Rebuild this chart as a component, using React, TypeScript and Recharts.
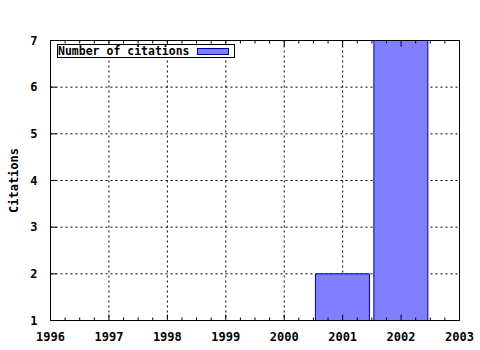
import React from 'react';
import { BarChart, Bar, XAxis, YAxis, CartesianGrid, Legend, Label } from 'recharts';

// citation counts per year
const years = [2001, 2002];
const citations = [2, 7];
const yearTicks = [1996, 1997, 1998, 1999, 2000, 2001, 2002, 2003];
const citationTicks = [1, 2, 3, 4, 5, 6, 7];
const seriesName = 'Number of citations';

const chartData = years.map((year, i) => ({ year, citations: citations[i] }));
// year tics plus quarter-year minor tics
const allXTicks = yearTicks.flatMap((y, i) =>
  i < yearTicks.length - 1 ? [y, y + 0.25, y + 0.5, y + 0.75] : [y]
);

const FONT = '"DejaVu Sans Mono", "Liberation Mono", monospace';
const BAR_FILL = '#8080ff';
const BAR_EDGE = '#0000a0';
const MAJOR = 6;
const MINOR = 3;

const tickText = {
  fontFamily: FONT,
  fontWeight: 'bold' as const,
  fontSize: 12,
  fill: '#000',
};

const isMajor = (v: number) => Number.isInteger(v);

const BottomTick = ({ x, y, payload }: any) => {
  const major = isMajor(payload.value);
  return (
    <g>
      <line x1={x} y1={y} x2={x} y2={y - (major ? MAJOR : MINOR)} stroke="#000" />
      {major && (
        <text x={x} y={y + 20} textAnchor="middle" {...tickText}>
          {payload.value}
        </text>
      )}
    </g>
  );
};

const TopTick = ({ x, y, payload }: any) => (
  <line x1={x} y1={y} x2={x} y2={y + (isMajor(payload.value) ? MAJOR : MINOR)} stroke="#000" />
);

const LeftTick = ({ x, y, payload }: any) => (
  <g>
    <line x1={x} y1={y} x2={x + MAJOR} y2={y} stroke="#000" />
    <text x={x - 13} y={y} textAnchor="end" dominantBaseline="central" {...tickText}>
      {payload.value}
    </text>
  </g>
);

const RightTick = ({ x, y }: any) => <line x1={x} y1={y} x2={x - MAJOR} y2={y} stroke="#000" />;

const YTitle = ({ viewBox }: any) => {
  const cx = viewBox.x + viewBox.width - 36.5;
  const cy = viewBox.y + viewBox.height / 2;
  return (
    <text
      x={cx}
      y={cy}
      transform={`rotate(-90 ${cx} ${cy})`}
      textAnchor="middle"
      dominantBaseline="central"
      {...tickText}
    >
      Citations
    </text>
  );
};

const LegendBox = ({ payload }: any) => (
  <div
    style={{
      boxSizing: 'border-box',
      width: 178,
      height: 14,
      border: '1px solid #000',
      background: '#fff',
      display: 'flex',
      alignItems: 'center',
      justifyContent: 'space-between',
      padding: '0 5px 0 0',
      fontFamily: FONT,
      fontWeight: 'bold',
      fontSize: 11.5,
      lineHeight: '12px',
      whiteSpace: 'nowrap',
      color: '#000',
    }}
  >
    <span>{payload && payload[0] ? payload[0].value : seriesName}</span>
    <span
      style={{
        display: 'inline-block',
        boxSizing: 'border-box',
        width: 32,
        height: 7,
        background: BAR_FILL,
        border: `1px solid ${BAR_EDGE}`,
      }}
    />
  </div>
);

const App: React.FC = () => {
  return (
    <div style={{ position: 'absolute', left: 0, top: 0, background: '#fff' }}>
      <BarChart
        width={480}
        height={350}
        data={chartData}
        margin={{ top: 39.5, right: 19.5, bottom: 0, left: 0 }}
      >
        <CartesianGrid
          xAxisId="year"
          yAxisId="left"
          stroke="#000"
          strokeDasharray="2 3"
          fill="none"
        />
        {/* hidden axis that places the bars and the grid */}
        <XAxis
          xAxisId="year"
          dataKey="year"
          type="number"
          domain={[1996, 2003]}
          ticks={yearTicks}
          interval={0}
          hide
        />
        <XAxis
          xAxisId="bottom"
          dataKey="year"
          type="number"
          domain={[1996, 2003]}
          ticks={allXTicks}
          interval={0}
          height={29.5}
          tickSize={0}
          tickMargin={0}
          tickLine={false}
          axisLine={{ stroke: '#000' }}
          tick={<BottomTick />}
        />
        <XAxis
          xAxisId="top"
          orientation="top"
          dataKey="year"
          type="number"
          domain={[1996, 2003]}
          ticks={allXTicks}
          interval={0}
          height={1}
          tickSize={0}
          tickMargin={0}
          tickLine={false}
          axisLine={{ stroke: '#000' }}
          tick={<TopTick />}
        />
        <YAxis
          yAxisId="left"
          type="number"
          domain={[1, 7]}
          ticks={citationTicks}
          interval={0}
          width={50.5}
          tickSize={0}
          tickMargin={0}
          tickLine={false}
          axisLine={{ stroke: '#000' }}
          tick={<LeftTick />}
        >
          <Label content={<YTitle />} />
        </YAxis>
        <YAxis
          yAxisId="right"
          orientation="right"
          type="number"
          domain={[1, 7]}
          ticks={citationTicks}
          interval={0}
          width={1}
          tickSize={0}
          tickMargin={0}
          tickLine={false}
          axisLine={{ stroke: '#000' }}
          tick={<RightTick />}
        />
        <Legend
          layout="vertical"
          align="center"
          verticalAlign="middle"
          content={<LegendBox />}
          wrapperStyle={{ left: 57, top: 44, width: 178, height: 14 }}
        />
        <Bar
          xAxisId="year"
          yAxisId="left"
          dataKey="citations"
          name={seriesName}
          barSize={54}
          fill={BAR_FILL}
          stroke={BAR_EDGE}
          strokeWidth={1}
          isAnimationActive={false}
        />
      </BarChart>
    </div>
  );
};

export default App;
